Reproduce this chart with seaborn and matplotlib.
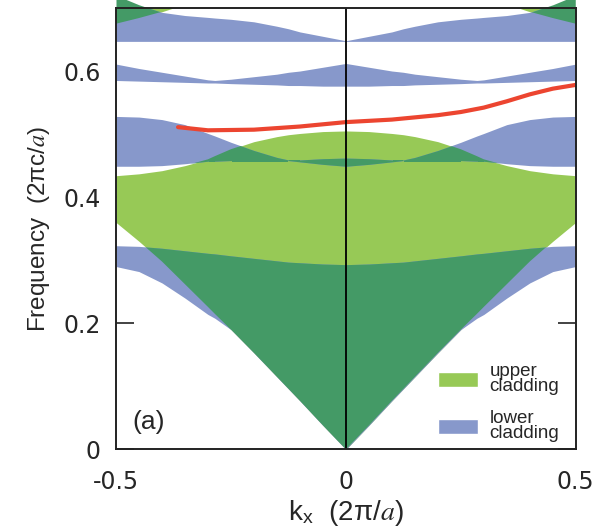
import numpy as np
import matplotlib
matplotlib.use('Agg')
import matplotlib.pyplot as plt
from matplotlib.patches import Patch
from matplotlib.path import Path
import seaborn as sns

# band edges read for k >= 0, the picture is mirror symmetric about k = 0
k_half = [0, 0.05, 0.1, 0.125, 0.15, 0.2, 0.25, 0.285, 0.3, 0.35, 0.4, 0.45, 0.5]

# upper cladding (green)
up1_lo = [0.000, 0.038, 0.077, 0.096, 0.115, 0.153, 0.190, 0.215, 0.226, 0.262, 0.298, 0.330, 0.360]
up1_hi = [0.505, 0.504, 0.501, 0.499, 0.496, 0.488, 0.476, 0.465, 0.460, 0.450, 0.442, 0.437, 0.434]
up2_lo = [0.800, 0.800, 0.790, 0.785, 0.780, 0.765, 0.745, 0.730, 0.722, 0.706, 0.694, 0.684, 0.675]
up2_hi = [0.900] * 13

# lower cladding (blue)
lo1_lo = [0.000, 0.038, 0.077, 0.096, 0.115, 0.153, 0.190, 0.208, 0.214, 0.240, 0.264, 0.282, 0.290]
lo1_hi = [0.293, 0.294, 0.296, 0.297, 0.299, 0.303, 0.307, 0.310, 0.311, 0.315, 0.319, 0.322, 0.323]
lo2_lo = [0.449, 0.452, 0.456, 0.458, 0.458, 0.458, 0.458, 0.457, 0.457, 0.453, 0.450, 0.449, 0.449]
lo2_hi = [0.462, 0.461, 0.459, 0.459, 0.463, 0.474, 0.487, 0.497, 0.501, 0.515, 0.523, 0.527, 0.528]
lo3_lo = [0.576, 0.576, 0.577, 0.577, 0.578, 0.579, 0.580, 0.581, 0.581, 0.582, 0.583, 0.584, 0.585]
lo3_hi = [0.612, 0.606, 0.600, 0.598, 0.595, 0.591, 0.587, 0.585, 0.586, 0.592, 0.598, 0.604, 0.611]
lo4_lo = [0.647] * 13
lo4_hi = [0.648, 0.655, 0.662, 0.667, 0.671, 0.678, 0.682, 0.684, 0.685, 0.688, 0.693, 0.705, 0.720]

# guided mode (red)
k_mode = [-0.365, -0.3, -0.2, -0.1, 0.0, 0.1, 0.2, 0.25, 0.3, 0.35, 0.4, 0.45, 0.5]
f_mode = [0.511, 0.506, 0.507, 0.512, 0.519, 0.523, 0.530, 0.535, 0.542, 0.552, 0.563, 0.572, 0.578]

GREEN = '#97C956'
BLUE = '#8798CB'
DARK = '#449A66'
RED = '#EC4530'


def mirror(v):
    v = np.asarray(v, dtype=float)
    return np.concatenate([v[::-1], v[1:]])


kk = np.asarray(k_half)
k_full = np.concatenate([-kk[::-1], kk[1:]])

sns.set_style('white')
plt.rcParams['font.family'] = ['Liberation Sans', 'DejaVu Sans']
plt.rcParams['mathtext.fontset'] = 'stix'

fig, ax = plt.subplots(figsize=(6.01, 5.30), dpi=100)
fig.subplots_adjust(left=0.193, right=0.958, bottom=0.152, top=0.985)

upper_bands = [(up1_lo, up1_hi), (up2_lo, up2_hi)]
lower_bands = [(lo1_lo, lo1_hi), (lo2_lo, lo2_hi), (lo3_lo, lo3_hi), (lo4_lo, lo4_hi)]

green_paths = []
for lo, hi in upper_bands:
    c = ax.fill_between(k_full, mirror(lo), mirror(hi), color=GREEN, lw=0, zorder=1)
    green_paths.extend(c.get_paths())
for lo, hi in lower_bands:
    ax.fill_between(k_full, mirror(lo), mirror(hi), color=BLUE, lw=0, zorder=2)

# overlap of both claddings drawn darker
clip = Path.make_compound_path(*green_paths)
for lo, hi in lower_bands:
    c = ax.fill_between(k_full, mirror(lo), mirror(hi), color=DARK, lw=0, zorder=3)
    c.set_clip_path(clip, ax.transData)

sns.lineplot(x=k_mode, y=f_mode, color=RED, lw=3, ax=ax, zorder=5)
ax.axvline(0, color='black', lw=1.3, zorder=6)

ax.set_xlim(-0.5, 0.5)
ax.set_ylim(0, 0.7)
ax.set_xticks([-0.5, 0, 0.5])
ax.set_xticklabels(['-0.5', '0', '0.5'])
ax.set_yticks([0, 0.2, 0.4, 0.6])
ax.set_yticklabels(['0', '0.2', '0.4', '0.6'])
ax.tick_params(axis='y', direction='in', length=13, width=1.2, left=True, right=True,
               labelsize=17, pad=11, color='#222222')
ax.tick_params(axis='x', length=0, labelsize=17, pad=15)
for lab in ax.get_xticklabels() + ax.get_yticklabels():
    lab.set_fontfamily('DejaVu Sans')
for s in ax.spines.values():
    s.set_color('#222222')
    s.set_linewidth(1.4)
    s.set_zorder(7)

ax.set_xlabel(r'k$_\mathregular{x}$  (2π/$a$)', fontsize=20, labelpad=3)
ax.set_ylabel(r'Frequency  (2πc/$a$)', fontsize=17.5, labelpad=8)

handles = [Patch(facecolor=GREEN, label='upper\ncladding'),
           Patch(facecolor=BLUE, label='lower\ncladding')]
leg = ax.legend(handles=handles, loc='upper left', bbox_to_anchor=(0.70, 0.195),
                frameon=False, fontsize=13.5, handlelength=2.15, handleheight=0.85,
                handletextpad=0.6, labelspacing=0.8, borderpad=0, borderaxespad=0)
for t in leg.get_texts():
    t.set_linespacing(0.85)

ax.text(0.035, 0.035, '(a)', transform=ax.transAxes, fontsize=19, ha='left', va='bottom')

fig.savefig('out.png', dpi=100)
